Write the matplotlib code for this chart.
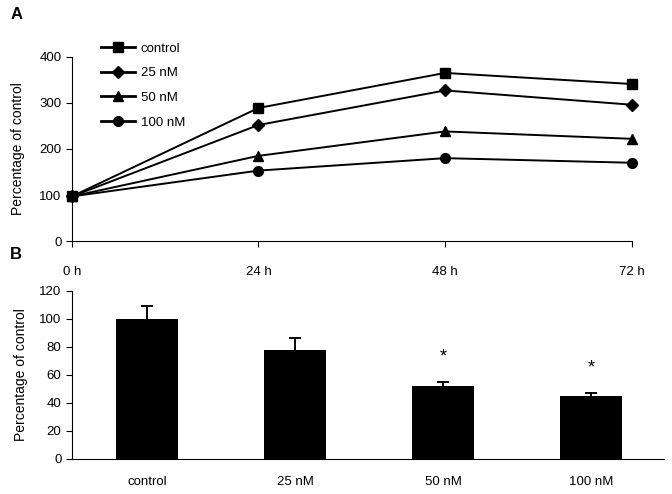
import numpy as np
import matplotlib.pyplot as plt

plt.rcParams["font.family"] = ["Liberation Sans", "DejaVu Sans"]

# panel A: time course
hours = [0, 24, 48, 72]
hour_labels = ["0 h", "24 h", "48 h", "72 h"]
series_names = ["control", "25 nM", "50 nM", "100 nM"]
control = [97, 289, 365, 341]
nm25 = [97, 252, 327, 296]
nm50 = [97, 185, 238, 222]
nm100 = [97, 153, 180, 170]
markers = ["s", "D", "^", "o"]

# panel B: bars
groups = ["control", "25 nM", "50 nM", "100 nM"]
means = [100, 78, 52, 45]
errs = [9, 8.5, 3, 2]
stars = ["", "", "*", "*"]

fig = plt.figure(figsize=(6.72, 4.94), dpi=100)

axA = fig.add_axes([0.107, 0.512, 0.833, 0.373])
for vals, m, name in zip([control, nm25, nm50, nm100], markers, series_names):
    ms = 6 if m == "D" else 7
    axA.plot(hours, vals, color="black", lw=1.4, marker=m, ms=ms,
             label=name, clip_on=False)
axA.set_xlim(0, 72)
axA.set_ylim(0, 400)
axA.set_yticks([0, 100, 200, 300, 400])
axA.set_xticks(hours)
axA.set_xticklabels(hour_labels)
axA.spines["top"].set_visible(False)
axA.spines["right"].set_visible(False)
axA.tick_params(axis="x", length=4, pad=14, labelsize=9.5)
axA.tick_params(axis="y", length=4, labelsize=9.5)
axA.set_ylabel("Percentage of control", fontsize=10, labelpad=10)
leg = axA.legend(loc="upper left", bbox_to_anchor=(0.142, 0.925), bbox_transform=fig.transFigure,
                 frameon=False, fontsize=9.5, handlelength=2.6, handletextpad=0.45,
                 labelspacing=0.95, borderaxespad=0)
for h in leg.legend_handles:
    h.set_linewidth(2)

axB = fig.add_axes([0.107, 0.071, 0.881, 0.34])
x = np.arange(len(groups))
axB.bar(x, means, width=0.42, color="black", yerr=errs,
        error_kw=dict(ecolor="black", lw=1.4, capsize=4, capthick=1.4))
for xi, m, e, s in zip(x, means, errs, stars):
    if s:
        axB.text(xi, m + e + 18, s, ha="center", va="center", fontsize=13)
axB.set_xlim(-0.51, 3.49)
axB.set_ylim(0, 120)
axB.set_yticks(np.arange(0, 121, 20))
axB.set_xticks(x)
axB.set_xticklabels(groups)
axB.spines["top"].set_visible(False)
axB.spines["right"].set_visible(False)
axB.tick_params(axis="x", length=0, pad=12, labelsize=9.5)
axB.tick_params(axis="y", length=4, labelsize=9.5)
axB.set_ylabel("Percentage of control", fontsize=10, labelpad=8)

fig.text(0.015, 0.985, "A", fontsize=12, fontweight="bold", va="top")
fig.text(0.015, 0.5, "B", fontsize=12, fontweight="bold", va="top")

fig.savefig("out.png", dpi=100)
